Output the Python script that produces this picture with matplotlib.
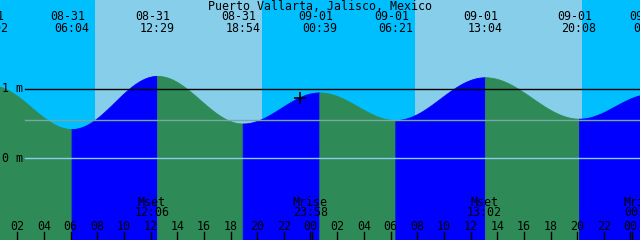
import matplotlib
matplotlib.use("Agg")
import matplotlib.pyplot as plt
import matplotlib.transforms as mtransforms
import numpy as np

# tide extremes (date, clock, height in m)
ext_dates = ["08-31", "08-31", "08-31", "08-31", "09-01", "09-01", "09-01", "09-01", "09-02"]
ext_clock = ["00:02", "06:04", "12:29", "18:54", "00:39", "06:21", "13:04", "20:08", "01:31"]
ext_heights = [1.05, 0.42, 1.19, 0.50, 0.95, 0.55, 1.17, 0.57, 0.93]

# sun: day/night boundaries
sun_day = [0, 0, 1, 1]
sun_clock = ["07:50", "20:21", "07:50", "20:21"]

# moon events
moon_kind = ["Mset", "Mrise", "Mset", "Mrise"]
moon_day = [0, 0, 1, 2]
moon_clock = ["12:06", "23:58", "13:02", "00:48"]

now_hour = 23.2      # the "+" marker
now_height = 0.87
mark_level = 0.55    # middle line
title = "Puerto Vallarta, Jalisco, Mexico"

start = 0.7          # hours after 08-31 00:00 at the left edge
span = 48.0
W, H = 640, 240
ybot, ytop = -82 / 69., 158 / 69.

day_of = {"08-31": 0, "09-01": 1, "09-02": 2}

def hours(day, clock):
	hh, mm = clock.split(":")
	return day * 24 + int(hh) + int(mm) / 60.

ext_t = [hours(day_of[d], c) for d, c in zip(ext_dates, ext_clock)]

fig = plt.figure(figsize=(W / 100., H / 100.), dpi=100)
ax = fig.add_axes([0, 0, 1, 1])
ax.set_xlim(start, start + span)
ax.set_ylim(ybot, ytop)
ax.set_axis_off()

# sky
ax.axvspan(start - 5, start + span + 5, color="#00bfff", lw=0)
sun_t = [hours(d, c) for d, c in zip(sun_day, sun_clock)]
for i in range(0, len(sun_t), 2):
	ax.axvspan(sun_t[i], sun_t[i + 1], color="#87ceeb", lw=0)

# tide curve between extremes, rising = blue, falling = green
for i in range(len(ext_t) - 1):
	t = np.linspace(ext_t[i], ext_t[i + 1], 200)
	f = (1 - np.cos(np.pi * (t - ext_t[i]) / (ext_t[i + 1] - ext_t[i]))) / 2
	h = ext_heights[i] + (ext_heights[i + 1] - ext_heights[i]) * f
	c = "#0000ff" if ext_heights[i + 1] > ext_heights[i] else "#2e8b57"
	ax.fill_between(t, h, ybot, color=c, lw=0.6, edgecolor=c)

# level lines
x0 = 25. / W
ax.axhline(1.0, xmin=x0, color="black", lw=1.0)
ax.axhline(mark_level, xmin=x0, color="#78a8a4", lw=1.0)
ax.axhline(0.0, xmin=x0, color="#8ccbec", lw=1.0)

font = dict(family="DejaVu Sans Mono", fontsize=8.4, color="black")
tr = mtransforms.blended_transform_factory(ax.transData, ax.transAxes)

def ypix(p):
	return 1 - p / float(H)

ax.text(2. / W, 1.0, "1 m", transform=mtransforms.blended_transform_factory(ax.transAxes, ax.transData),
	ha="left", va="center", **font)
ax.text(2. / W, 0.0, "0 m", transform=mtransforms.blended_transform_factory(ax.transAxes, ax.transData),
	ha="left", va="center", **font)

ax.text(0.5, ypix(6), title, transform=ax.transAxes, ha="center", va="center", **font)

shift = 4 * span / W
for t, d, c in zip(ext_t, ext_dates, ext_clock):
	ax.text(t - shift, ypix(17), d, transform=tr, ha="center", va="center", **font)
	ax.text(t, ypix(29), c, transform=tr, ha="center", va="center", **font)

for k, d, c in zip(moon_kind, moon_day, moon_clock):
	t = hours(d, c)
	ax.text(t, ypix(202), k, transform=tr, ha="center", va="center", **font)
	ax.text(t, ypix(213), c, transform=tr, ha="center", va="center", **font)

# hour ticks, day change gets a double tick
for hr in range(2, 50, 2):
	ax.text(hr, ypix(226), "%02d" % (hr % 24), transform=tr, ha="center", va="center", **font)
	if hr % 24 == 0:
		dx = 1.0 * span / W
		ax.plot([hr - dx, hr - dx], [ypix(232), 0], transform=tr, color="black", lw=1)
		ax.plot([hr + dx, hr + dx], [ypix(232), 0], transform=tr, color="black", lw=1)
	else:
		ax.plot([hr, hr], [ypix(232), 0], transform=tr, color="black", lw=1)

ax.plot([now_hour], [now_height], marker="+", ms=9, mew=1.2, color="black")

fig.savefig("out.png", dpi=100)
